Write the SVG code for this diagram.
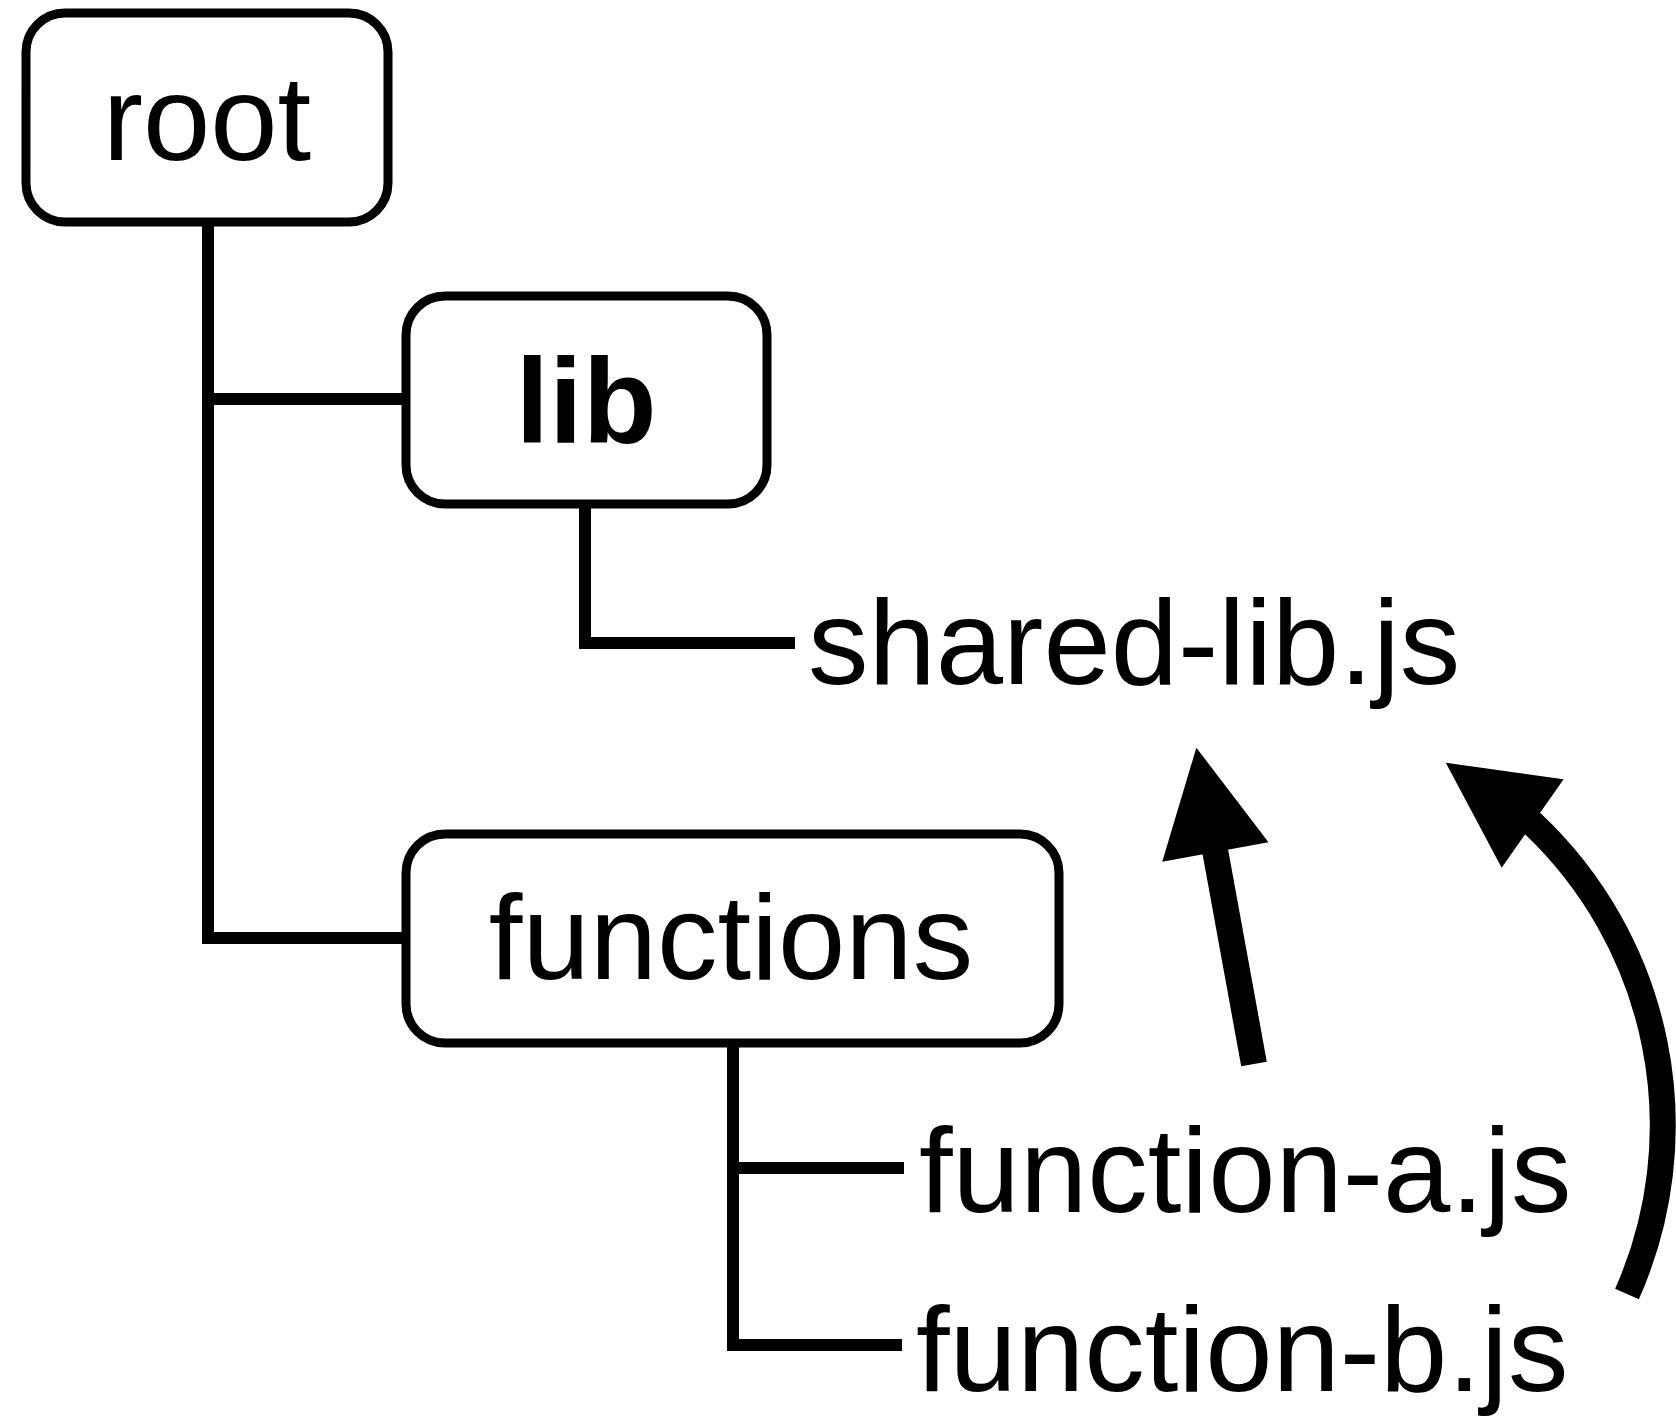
<svg xmlns="http://www.w3.org/2000/svg" width="1676" height="1424" viewBox="0 0 1676 1424">
<style>
.box{fill:#fff;stroke:#000;stroke-width:9}
.lbl{font-family:"Liberation Sans",Arial,Helvetica,sans-serif;font-size:121px;fill:#000}
.tree{fill:none;stroke:#000;stroke-width:12;stroke-linejoin:miter;stroke-linecap:butt}
.arrow{fill:none;stroke:#000;stroke-width:26;stroke-linecap:butt}
</style>
<defs>
<marker id="head" markerUnits="userSpaceOnUse" markerWidth="110" markerHeight="110" refX="2" refY="54" orient="auto" overflow="visible">
<path d="M0,0 L106,54 L0,108 Z" fill="#000"/>
</marker>
</defs>
<rect width="1676" height="1424" fill="#fff"/>
<g id="connectors">
<polyline class="tree" points="208,222 208,938 406,938"/>
<line class="tree" x1="208" y1="399" x2="406" y2="399"/>
<polyline class="tree" points="585,504 585,643 795,643"/>
<polyline class="tree" points="733,1043 733,1345 902,1345"/>
<line class="tree" x1="733" y1="1168" x2="904" y2="1168"/>
<path class="arrow" d="M1254,1064 L1215,850" marker-end="url(#head)"/>
<path class="arrow" d="M1627,1294 A415,415 0 0 0 1532,823 L1531,822.3" marker-end="url(#head)"/>
</g>
<g id="root">
<rect class="box" x="26" y="13" width="362" height="209" rx="39"/>
<text class="lbl" x="207" y="160" text-anchor="middle">root</text>
</g>
<g id="lib">
<rect class="box" x="406" y="296" width="361" height="208" rx="39"/>
<text class="lbl" x="586" y="443" text-anchor="middle" font-weight="bold">lib</text>
</g>
<g id="functions">
<rect class="box" x="406" y="834" width="653" height="209" rx="39"/>
<text class="lbl" x="731" y="979" text-anchor="middle">functions</text>
</g>
<g id="shared-lib">
<text class="lbl" x="808" y="684">shared-lib.js</text>
</g>
<g id="function-a">
<text class="lbl" x="919" y="1212">function-a.js</text>
</g>
<g id="function-b">
<text class="lbl" x="916" y="1391">function-b.js</text>
</g>
</svg>
